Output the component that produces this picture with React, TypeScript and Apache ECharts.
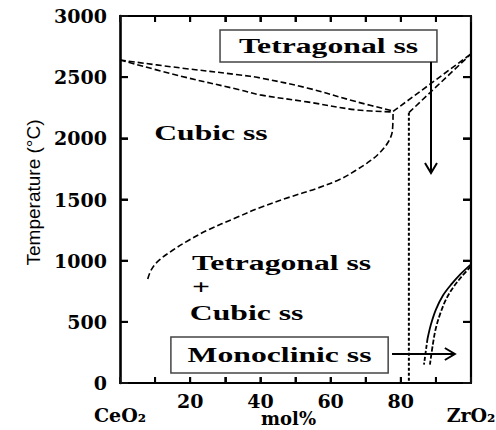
import React, { useEffect, useRef } from "react";
import * as echarts from "echarts";

// ---- data (mol% ZrO2, temperature °C) ----
const xLabelTexts: Record<number, string> = { 0: "\nCeO₂", 20: "20", 40: "40", 60: "60", 80: "80", 100: "\nZrO₂" };
const xTickValues = [10, 20, 30, 40, 50, 60, 70, 80, 90];
const yTickValues = [500, 1000, 1500, 2000, 2500];

const liquidusUpper = [[0, 2640], [17.1, 2576], [34.2, 2518], [39.9, 2494], [53.3, 2412], [67.5, 2298], [77.8, 2224]];
const solidusLower = [[0, 2640], [17.1, 2510], [34.2, 2396], [39.9, 2355], [53.3, 2298], [67.5, 2232], [77.8, 2216]];
const cubicBoundary = [
  [7.9, 850], [8.9, 925], [11, 1000], [15, 1085], [19.5, 1165], [25, 1250], [33, 1350], [40, 1435],
  [48.4, 1520], [56, 1590], [62.7, 1665], [67, 1735], [70.5, 1800], [73.5, 1868], [76.2, 1960], [77.6, 2060], [77.8, 2216],
];
const tetragonalLeft = [[77.8, 2220], [100, 2690]];
const tetragonalRight = [[82.3, 2210], [100, 2690]];
const verticalBoundary = [[82.3, 2210], [82.3, 0]];
const monoclinicOuter = [[100, 970], [97, 890], [94.5, 810], [92, 715], [90, 600], [88.6, 480], [87.6, 360]];
const monoclinicOuterTail = [[87.6, 360], [86.6, 150]];
const monoclinicInner = [[100, 955], [97.2, 865], [95, 785], [93, 690], [91.4, 580], [90, 450], [89.1, 310], [88.3, 150]];

// annotations (data coordinates)
const boxLabels = [
  { text: "Tetragonal ss", x0: 28.5, x1: 90.3, y0: 2625, y1: 2886 },
  { text: "Monoclinic ss", x0: 14.5, x1: 76.4, y0: 82, y1: 376 },
];
const centeredLabels = [{ text: "Cubic ss", x: 25.9, y: 2044 }];
const leftLabels = [
  { text: "Tetragonal ss", x: 20.5, y: 981 },
  { text: "+", x: 20.5, y: 785 },
  { text: "Cubic ss", x: 19.9, y: 572 },
];
const arrows = [
  { from: [88.6, 2625], to: [88.6, 1717] },
  { from: [77.5, 237], to: [95.4, 237] },
];

const SERIF = '"Liberation Serif", "Times New Roman", serif';
const WIDE_SERIF = '"DejaVu Serif", serif';

export default function App() {
  const ref = useRef<HTMLDivElement>(null);
  useEffect(() => {
    if (!ref.current) return;
    const chart = echarts.init(ref.current, undefined, { renderer: "svg" });
    const dashed = (data: number[][], extra: any = {}) => ({
      type: "line",
      data,
      showSymbol: false,
      symbol: "none",
      smooth: extra.smooth ?? 0.35,
      lineStyle: { color: "#000", width: extra.width ?? 1.6, type: extra.dash ?? [6, 3] },
      silent: true,
      z: 3,
    });
    const tick = (len: number) => ({ show: true, inside: true, length: len, lineStyle: { color: "#111", width: 2 } });
    chart.setOption({
      animation: false,
      grid: { left: 120, right: 25, top: 16, bottom: 47, outerBoundsMode: "none" },
      xAxis: [
        {
          type: "value",
          min: 0,
          max: 100,
          interval: 10,
          splitLine: { show: false },
          axisLine: { show: true, onZero: false, lineStyle: { color: "#000", width: 2.2 } },
          name: "mol%",
          nameLocation: "middle",
          nameGap: 26,
          nameMoveOverlap: false,
          nameTextStyle: { fontFamily: WIDE_SERIF, fontWeight: "bold", fontSize: 18, color: "#000", padding: [0, 14, 0, 0] },
          axisTick: tick(6),
          axisLabel: {
            show: true,
            showMinLabel: true,
            showMaxLabel: true,
            hideOverlap: false,
            margin: 11,
            lineHeight: 14,
            fontFamily: WIDE_SERIF,
            fontWeight: "bold",
            fontSize: 19,
            color: "#000",
            formatter: (v: number) => xLabelTexts[v] ?? "",
          },
        },
        {
          type: "value",
          min: 0,
          max: 100,
          interval: 10,
          position: "top",
          splitLine: { show: false },
          axisLine: { show: true, onZero: false, lineStyle: { color: "#000", width: 2.2 } },
          axisTick: tick(6),
          axisLabel: { show: false },
        },
      ],
      yAxis: [
        {
          type: "value",
          min: 0,
          max: 3000,
          interval: 500,
          splitLine: { show: false },
          name: "Temperature (°C)",
          nameLocation: "middle",
          nameGap: 77,
          nameTextStyle: { fontFamily: '"Liberation Sans", Arial, sans-serif', fontSize: 19, color: "#000", padding: [0, 0, 0, 14] },
          axisLine: { show: true, onZero: false, lineStyle: { color: "#000", width: 2.6 } },
          axisTick: tick(8),
          axisLabel: {
            margin: 13,
            fontFamily: WIDE_SERIF,
            fontWeight: "bold",
            fontSize: 19,
            color: "#000",
            formatter: (v: number) => String(v),
          },
        },
        {
          type: "value",
          min: 0,
          max: 3000,
          interval: 500,
          position: "right",
          splitLine: { show: false },
          axisLine: { show: true, onZero: false, lineStyle: { color: "#000", width: 2.2 } },
          axisTick: tick(8),
          axisLabel: { show: false },
        },
      ],
      series: [
        dashed(liquidusUpper),
        dashed(solidusLower),
        dashed(cubicBoundary),
        dashed(tetragonalLeft, { smooth: false }),
        dashed(tetragonalRight, { smooth: false }),
        dashed(verticalBoundary, { smooth: false, width: 2, dash: [3, 2] }),
        dashed(monoclinicOuter, { width: 1.8, dash: "solid" }),
        dashed(monoclinicOuterTail, { smooth: false, width: 1.8, dash: [4, 2] }),
        dashed(monoclinicInner, { width: 1.8, dash: [5, 2] }),
      ],
    });

    const px = (p: number[]) => chart.convertToPixel({ xAxisIndex: 0, yAxisIndex: 0 }, p) as number[];
    const textStyle = (text: string, align: string) => ({
      text,
      x: 0,
      y: 0,
      fontFamily: SERIF,
      fontWeight: "bold",
      fontSize: 22,
      fill: "#000",
      align,
      verticalAlign: "middle",
    });
    const SX = 1.44;
    const elements: any[] = [];
    const tickLine = (x1: number, y1: number, x2: number, y2: number) =>
      elements.push({ type: "line", shape: { x1, y1, x2, y2 }, style: { stroke: "#000", lineWidth: 2 }, z: 12 });
    xTickValues.forEach((v) => {
      const b = px([v, 0]);
      const t = px([v, 3000]);
      tickLine(b[0], b[1], b[0], b[1] - 6);
      tickLine(t[0], t[1], t[0], t[1] + 6);
    });
    yTickValues.forEach((v) => {
      const l = px([0, v]);
      const r = px([100, v]);
      tickLine(l[0], l[1], l[0] + 8, l[1]);
      tickLine(r[0], r[1], r[0] - 8, r[1]);
    });
    boxLabels.forEach((b) => {
      const a = px([b.x0, b.y1]);
      const c = px([b.x1, b.y0]);
      elements.push({
        type: "rect",
        shape: { x: a[0], y: a[1], width: c[0] - a[0], height: c[1] - a[1] },
        style: { fill: "#fff", stroke: "#444", lineWidth: 1.5 },
        z: 10,
      });
      elements.push({
        type: "text",
        x: (a[0] + c[0]) / 2,
        y: (a[1] + c[1]) / 2,
        scaleX: SX,
        style: textStyle(b.text, "center"),
        z: 11,
      });
    });
    centeredLabels.forEach((l) => {
      const p = px([l.x, l.y]);
      elements.push({ type: "text", x: p[0], y: p[1], scaleX: SX, style: textStyle(l.text, "center"), z: 11 });
    });
    leftLabels.forEach((l) => {
      const p = px([l.x, l.y]);
      elements.push({ type: "text", x: p[0], y: p[1], scaleX: SX, style: textStyle(l.text, "left"), z: 11 });
    });
    arrows.forEach((ar) => {
      const f = px(ar.from);
      const t = px(ar.to);
      const dx = t[0] - f[0];
      const dy = t[1] - f[1];
      const len = Math.hypot(dx, dy);
      const ux = dx / len;
      const uy = dy / len;
      const hl = 10;
      const hw = 6;
      elements.push({
        type: "line",
        shape: { x1: f[0], y1: f[1], x2: t[0], y2: t[1] },
        style: { stroke: "#000", lineWidth: 2 },
        z: 12,
      });
      elements.push({
        type: "polyline",
        shape: {
          points: [
            [t[0] - ux * hl - uy * hw, t[1] - uy * hl + ux * hw],
            [t[0], t[1]],
            [t[0] - ux * hl + uy * hw, t[1] - uy * hl - ux * hw],
          ],
        },
        style: { stroke: "#000", lineWidth: 2, fill: "none" },
        z: 12,
      });
    });
    chart.setOption({ graphic: { elements } });

    return () => chart.dispose();
  }, []);
  return (
    <div
      ref={ref}
      style={{ position: "absolute", left: 0, top: 0, width: 496, height: 430, background: "#fff" }}
    />
  );
}
